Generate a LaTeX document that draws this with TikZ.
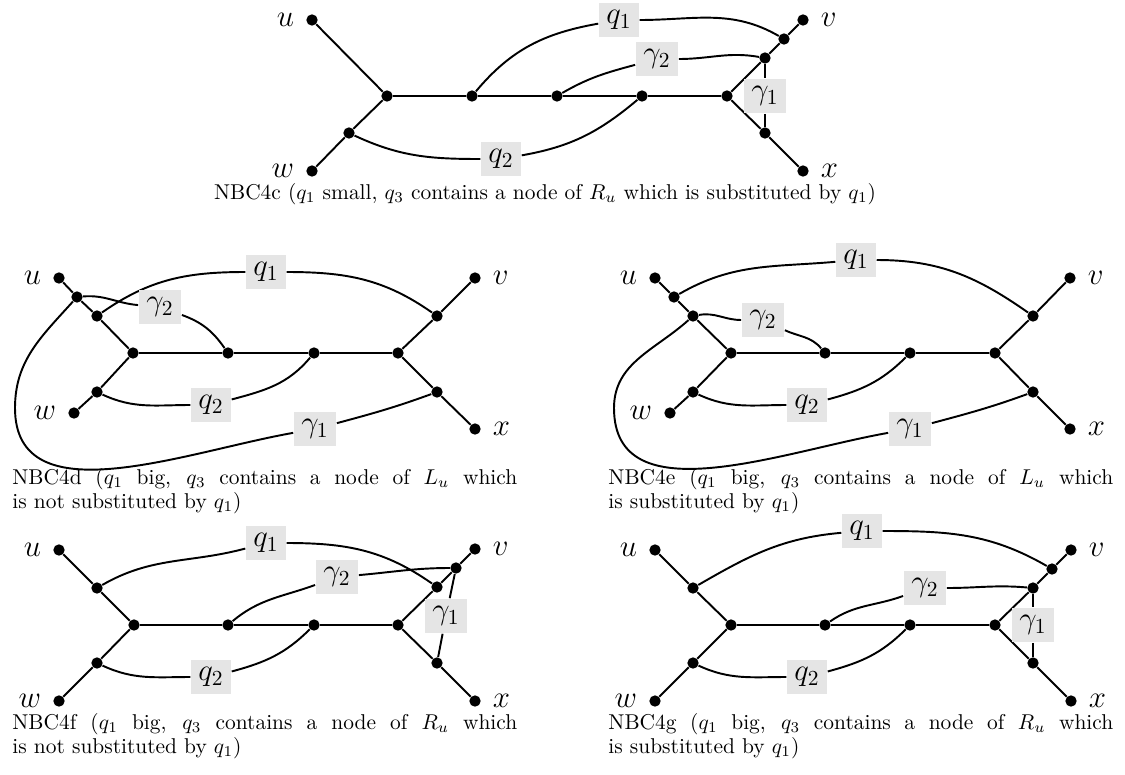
\documentclass[tikz,border=0pt]{standalone}
\usepackage{amsmath,amssymb}
\usepackage{tikz}
\usetikzlibrary{backgrounds}
\tikzset{
  vtx/.style={circle, fill=black, inner sep=0pt, minimum size=5.3pt},
  lbl/.style={fill=gray!20, inner sep=3.6pt, font=\fontsize{14}{16}\selectfont},
  vname/.style={font=\fontsize{14}{16}\selectfont, inner sep=0.5pt, label distance=4.8pt},
  wire/.style={line width=0.9pt},
  capt/.style={font=\fontsize{10}{9.5}\selectfont, anchor=north west,
    text width=235.6pt, align=justify, inner sep=0pt},
  captc/.style={font=\fontsize{10}{9.5}\selectfont, anchor=base, inner sep=0pt}
}

\begin{document}
\begin{tikzpicture}[x=0.0164cm, y=0.0164cm]
  \useasboundingbox (0,0) rectangle (1125,-774);

  % NBC4c
  \node[vtx, label={[vname]left:$u$}] (cu) at (312,-20) {};
  \node[vtx] (cL) at (387,-96) {};
  \node[vtx] (cw1) at (349,-133) {};
  \node[vtx, label={[vname]left:$w$}] (cw) at (312,-171) {};
  \node[vtx] (ca) at (472,-96) {};
  \node[vtx] (cb) at (557,-96) {};
  \node[vtx] (cc) at (642,-96) {};
  \node[vtx] (cR) at (727,-96) {};
  \node[vtx] (cv2) at (765,-58) {};
  \node[vtx] (cv1) at (784,-39) {};
  \node[vtx, label={[vname]right:$v$}] (cv) at (803,-20) {};
  \node[vtx] (cx1) at (765,-133) {};
  \node[vtx, label={[vname]right:$x$}] (cx) at (803,-171) {};
  \node[lbl] (cq1) at (619,-20) {$q_1$};
  \node[lbl] (cg2) at (657,-59) {$\gamma_2$};
  \node[lbl] (cg1) at (765,-96) {$\gamma_1$};
  \node[lbl] (cq2) at (501,-159) {$q_2$};
  \node[captc] (capc) at (545,-199)
    {NBC4c ($q_1$ small, $q_3$ contains a node of $R_u$ which is substituted by $q_1$)};
  \begin{scope}[on background layer]
    \draw[wire] (cu) -- (cL) -- (cw1) -- (cw);
    \draw[wire] (cL) -- (ca) -- (cb) -- (cc) -- (cR);
    \draw[wire] (cR) -- (cv2) -- (cv1) -- (cv);
    \draw[wire] (cR) -- (cx1) -- (cx);
    \draw[wire] (cv2) -- (cg1) -- (cx1);
    \draw[wire] (ca) to[out=50,in=190] (cq1) (cq1) to[out=0,in=150] (cv1);
    \draw[wire] (cb) to[out=30,in=195] (cg2) (cg2) to[out=0,in=170] (cv2);
    \draw[wire] (cw1) to[out=-25,in=180] (cq2) (cq2) to[out=10,in=220] (cc);
  \end{scope}

  % NBC4d
  \node[vtx, label={[vname]left:$u$}] (du) at (59,-278) {};
  \node[vtx] (du1) at (77,-297) {};
  \node[vtx] (du2) at (97,-316) {};
  \node[vtx] (dL) at (133,-353) {};
  \node[vtx] (dw1) at (97,-392) {};
  \node[vtx, label={[vname]left:$w$}] (dw) at (74,-413) {};
  \node[vtx] (da) at (228,-353) {};
  \node[vtx] (dc) at (314,-353) {};
  \node[vtx] (dR) at (398,-353) {};
  \node[vtx] (dv1) at (437,-316) {};
  \node[vtx, label={[vname]right:$v$}] (dv) at (475,-278) {};
  \node[vtx] (dx1) at (437,-392) {};
  \node[vtx, label={[vname]right:$x$}] (dx) at (475,-429) {};
  \node[lbl] (dq1) at (266,-272) {$q_1$};
  \node[lbl] (dg2) at (160,-307) {$\gamma_2$};
  \node[lbl] (dq2) at (211,-405) {$q_2$};
  \node[lbl] (dg1) at (315,-429) {$\gamma_1$};
  \node[capt] (capd) at (12,-468)
    {NBC4d ($q_1$ big, $q_3$ contains a node of $L_u$ which\linebreak is not substituted by $q_1$)};
  \begin{scope}[on background layer]
    \draw[wire] (du) -- (du1) -- (du2) -- (dL) -- (dw1) -- (dw);
    \draw[wire] (dL) -- (da) -- (dc) -- (dR);
    \draw[wire] (dR) -- (dv1) -- (dv);
    \draw[wire] (dR) -- (dx1) -- (dx);
    \draw[wire] (du1) to[out=5,in=175] (dg2) (dg2) to[out=-20,in=125] (da);
    \draw[wire] (du2) to[out=35,in=180] (dq1) (dq1) to[out=0,in=145] (dv1);
    \draw[wire] (dw1) to[out=-25,in=180] (dq2) (dq2) to[out=15,in=230] (dc);
    \draw[wire] (du1) to[out=-132,in=90] (15,-408) to[out=-90,in=190] (dg1)
      (dg1) to[out=15,in=200] (dx1);
  \end{scope}

  % NBC4e
  \node[vtx, label={[vname]left:$u$}] (eu) at (655,-278) {};
  \node[vtx] (eu1) at (674,-297) {};
  \node[vtx] (eu2) at (693,-316) {};
  \node[vtx] (eL) at (731,-353) {};
  \node[vtx] (ew1) at (693,-392) {};
  \node[vtx, label={[vname]left:$w$}] (ew) at (670,-413) {};
  \node[vtx] (ea) at (825,-353) {};
  \node[vtx] (ec) at (910,-353) {};
  \node[vtx] (eR) at (995,-353) {};
  \node[vtx] (ev1) at (1033,-316) {};
  \node[vtx, label={[vname]right:$v$}] (ev) at (1070,-278) {};
  \node[vtx] (ex1) at (1033,-392) {};
  \node[vtx, label={[vname]right:$x$}] (ex) at (1070,-429) {};
  \node[lbl] (eq1) at (856,-260) {$q_1$};
  \node[lbl] (eg2) at (763,-320) {$\gamma_2$};
  \node[lbl] (eq2) at (807,-405) {$q_2$};
  \node[lbl] (eg1) at (910,-429) {$\gamma_1$};
  \node[capt] (cape) at (608,-468)
    {NBC4e ($q_1$ big, $q_3$ contains a node of $L_u$ which\linebreak is substituted by $q_1$)};
  \begin{scope}[on background layer]
    \draw[wire] (eu) -- (eu1) -- (eu2) -- (eL) -- (ew1) -- (ew);
    \draw[wire] (eL) -- (ea) -- (ec) -- (eR);
    \draw[wire] (eR) -- (ev1) -- (ev);
    \draw[wire] (eR) -- (ex1) -- (ex);
    \draw[wire] (eu1) to[out=30,in=185] (eq1) (eq1) to[out=0,in=145] (ev1);
    \draw[wire] (eu2) to[out=10,in=180] (eg2) (eg2) to[out=-25,in=130] (ea);
    \draw[wire] (ew1) to[out=-25,in=180] (eq2) (eq2) to[out=15,in=225] (ec);
    \draw[wire] (eu2) to[out=-138,in=90] (614,-408) to[out=-90,in=190] (eg1)
      (eg1) to[out=15,in=200] (ex1);
  \end{scope}

  % NBC4f
  \node[vtx, label={[vname]left:$u$}] (fu) at (59,-550) {};
  \node[vtx] (fu1) at (97,-588) {};
  \node[vtx] (fL) at (134,-625) {};
  \node[vtx] (fw1) at (97,-663) {};
  \node[vtx, label={[vname]left:$w$}] (fw) at (59,-701) {};
  \node[vtx] (fa) at (228,-625) {};
  \node[vtx] (fc) at (314,-625) {};
  \node[vtx] (fR) at (398,-625) {};
  \node[vtx] (fv1) at (437,-587) {};
  \node[vtx] (fv2) at (456,-568) {};
  \node[vtx, label={[vname]right:$v$}] (fv) at (475,-549) {};
  \node[vtx] (fx1) at (437,-663) {};
  \node[vtx, label={[vname]right:$x$}] (fx) at (475,-701) {};
  \node[lbl] (fq1) at (266,-543) {$q_1$};
  \node[lbl] (fg2) at (337,-577) {$\gamma_2$};
  \node[lbl] (fg1) at (446,-616) {$\gamma_1$};
  \node[lbl] (fq2) at (211,-677) {$q_2$};
  \node[capt] (capf) at (12,-713)
    {NBC4f ($q_1$ big, $q_3$ contains a node of $R_u$ which\linebreak is not substituted by $q_1$)};
  \begin{scope}[on background layer]
    \draw[wire] (fu) -- (fu1) -- (fL) -- (fw1) -- (fw);
    \draw[wire] (fL) -- (fa) -- (fc) -- (fR);
    \draw[wire] (fR) -- (fv1) -- (fv2) -- (fv);
    \draw[wire] (fR) -- (fx1) -- (fx);
    \draw[wire] (fv2) -- (fg1) -- (fx1);
    \draw[wire] (fu1) to[out=30,in=195] (fq1) (fq1) to[out=0,in=145] (fv1);
    \draw[wire] (fa) to[out=40,in=200] (fg2) (fg2) to[out=5,in=180] (fv2);
    \draw[wire] (fw1) to[out=-25,in=180] (fq2) (fq2) to[out=15,in=225] (fc);
  \end{scope}

  % NBC4g
  \node[vtx, label={[vname]left:$u$}] (gu) at (655,-550) {};
  \node[vtx] (gu1) at (693,-588) {};
  \node[vtx] (gL) at (731,-625) {};
  \node[vtx] (gw1) at (693,-663) {};
  \node[vtx, label={[vname]left:$w$}] (gw) at (655,-701) {};
  \node[vtx] (ga) at (825,-625) {};
  \node[vtx] (gc) at (910,-625) {};
  \node[vtx] (gR) at (995,-625) {};
  \node[vtx] (gv1) at (1033,-588) {};
  \node[vtx] (gv2) at (1052,-569) {};
  \node[vtx, label={[vname]right:$v$}] (gv) at (1071,-550) {};
  \node[vtx] (gx1) at (1033,-663) {};
  \node[vtx, label={[vname]right:$x$}] (gx) at (1071,-701) {};
  \node[lbl] (gq1) at (862,-531) {$q_1$};
  \node[lbl] (gg2) at (925,-588) {$\gamma_2$};
  \node[lbl] (gg1) at (1033,-625) {$\gamma_1$};
  \node[lbl] (gq2) at (807,-677) {$q_2$};
  \node[capt] (capg) at (608,-713)
    {NBC4g ($q_1$ big, $q_3$ contains a node of $R_u$ which\linebreak is substituted by $q_1$)};
  \begin{scope}[on background layer]
    \draw[wire] (gu) -- (gu1) -- (gL) -- (gw1) -- (gw);
    \draw[wire] (gL) -- (ga) -- (gc) -- (gR);
    \draw[wire] (gR) -- (gv1) -- (gv2) -- (gv);
    \draw[wire] (gR) -- (gx1) -- (gx);
    \draw[wire] (gv1) -- (gg1) -- (gx1);
    \draw[wire] (gu1) to[out=30,in=185] (gq1) (gq1) to[out=0,in=150] (gv2);
    \draw[wire] (ga) to[out=35,in=200] (gg2) (gg2) to[out=0,in=175] (gv1);
    \draw[wire] (gw1) to[out=-25,in=180] (gq2) (gq2) to[out=15,in=225] (gc);
  \end{scope}
\end{tikzpicture}
\end{document}
